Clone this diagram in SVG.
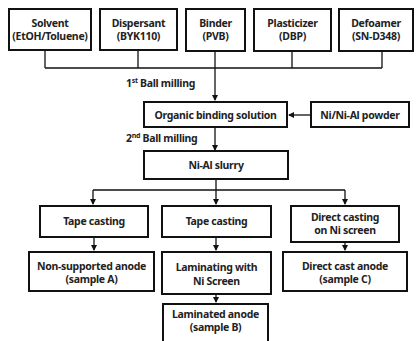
<svg xmlns="http://www.w3.org/2000/svg" width="416" height="341" viewBox="0 0 416 341">
<defs>
<marker id="ah" markerWidth="6" markerHeight="6" refX="5" refY="3" orient="auto" markerUnits="userSpaceOnUse">
<path d="M0,0 L6,3 L0,6 Z" fill="#111"/>
</marker>
<style>
.box{fill:#fff;stroke:#111;stroke-width:2}
.t{font-family:"Noto Sans","Open Sans",sans-serif;font-weight:bold;font-size:10.5px;letter-spacing:-0.3px;fill:#222;text-anchor:middle}
.lb{font-family:"Noto Sans","Open Sans",sans-serif;font-weight:bold;font-size:10.5px;letter-spacing:-0.3px;fill:#222}
.sup{font-size:7px}
.c{fill:none;stroke:#111;stroke-width:1.3}
</style>
</defs>
<rect width="416" height="341" fill="#fff"/>
<g id="connectors">
<path class="c" d="M45,51 V68 M138,51 V68 M292,51 V68 M382,51 V68 M45,68 H382"/>
<path class="c" d="M215,51 V100" marker-end="url(#ah)"/>
<path class="c" d="M311,115 H289" marker-end="url(#ah)"/>
<path class="c" d="M215,128 V150" marker-end="url(#ah)"/>
<path class="c" d="M216,180 V190 M93,190 H345"/>
<path class="c" d="M93,190 V204" marker-end="url(#ah)"/>
<path class="c" d="M216,190 V204" marker-end="url(#ah)"/>
<path class="c" d="M345,190 V204" marker-end="url(#ah)"/>
<path class="c" d="M94,238 V250" marker-end="url(#ah)"/>
<path class="c" d="M216,238 V250" marker-end="url(#ah)"/>
<path class="c" d="M345,243 V250" marker-end="url(#ah)"/>
<path class="c" d="M216,295 V302" marker-end="url(#ah)"/>
<text class="lb" x="126" y="87">1<tspan class="sup" dy="-4">st</tspan><tspan dy="4"> Ball milling</tspan></text>
<text class="lb" x="126" y="142">2<tspan class="sup" dy="-4">nd</tspan><tspan dy="4"> Ball milling</tspan></text>
</g>
<g id="solvent"><rect class="box" x="9" y="9" width="82" height="41"/><text class="t" x="50" y="27">Solvent</text><text class="t" x="50" y="40">(EtOH/Toluene)</text></g>
<g id="dispersant"><rect class="box" x="100" y="9" width="77" height="41"/><text class="t" x="138.5" y="27">Dispersant</text><text class="t" x="138.5" y="40">(BYK110)</text></g>
<g id="binder"><rect class="box" x="186" y="9" width="59" height="42"/><text class="t" x="215.5" y="27">Binder</text><text class="t" x="215.5" y="40">(PVB)</text></g>
<g id="plasticizer"><rect class="box" x="254" y="9" width="77" height="42"/><text class="t" x="292.5" y="27">Plasticizer</text><text class="t" x="292.5" y="40">(DBP)</text></g>
<g id="defoamer"><rect class="box" x="339" y="9" width="74" height="42"/><text class="t" x="376" y="27">Defoamer</text><text class="t" x="376" y="40">(SN-D348)</text></g>
<g id="organic"><rect class="box" x="144" y="102" width="143" height="25"/><text class="t" x="215.5" y="119">Organic binding solution</text></g>
<g id="powder"><rect class="box" x="311" y="102" width="98" height="25"/><text class="t" x="360" y="119">Ni/Ni-Al powder</text></g>
<g id="slurry"><rect class="box" x="144" y="151" width="144" height="28"/><text class="t" x="216" y="169">Ni-Al slurry</text></g>
<g id="tape1"><rect class="box" x="40" y="206" width="108" height="31"/><text class="t" x="94" y="225">Tape casting</text></g>
<g id="tape2"><rect class="box" x="162" y="206" width="109" height="31"/><text class="t" x="216.5" y="225">Tape casting</text></g>
<g id="direct"><rect class="box" x="291" y="206" width="108" height="36"/><text class="t" x="345" y="221">Direct casting</text><text class="t" x="345" y="234">on Ni screen</text></g>
<g id="sampleA"><rect class="box" x="29" y="252" width="125" height="39"/><text class="t" x="91.5" y="270">Non-supported anode</text><text class="t" x="91.5" y="283">(sample A)</text></g>
<g id="laminating"><rect class="box" x="162" y="252" width="109" height="42"/><text class="t" x="216.5" y="271">Laminating with</text><text class="t" x="216.5" y="285">Ni Screen</text></g>
<g id="sampleC"><rect class="box" x="283" y="252" width="124" height="39"/><text class="t" x="345" y="270">Direct cast anode</text><text class="t" x="345" y="283">(sample C)</text></g>
<g id="sampleB"><rect class="box" x="163" y="304" width="105" height="45"/><text class="t" x="215.5" y="318">Laminated anode</text><text class="t" x="215.5" y="331">(sample B)</text></g>
</svg>
